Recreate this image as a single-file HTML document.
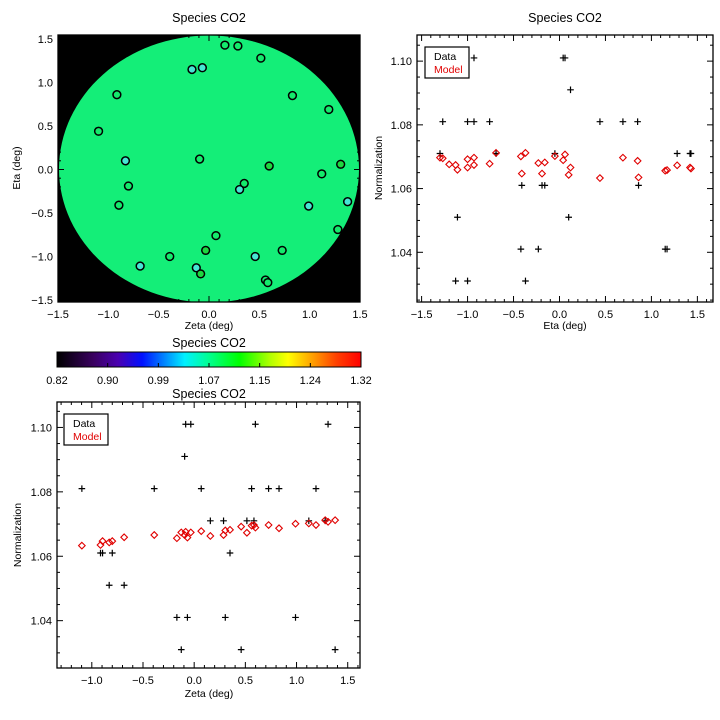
<!DOCTYPE html>
<html><head><meta charset="utf-8"><style>
html,body{margin:0;padding:0;background:#fff;}
svg{display:block;font-family:"Liberation Sans",sans-serif;}
</style></head><body>
<svg id="fig" width="720" height="720" viewBox="0 0 720 720" xmlns="http://www.w3.org/2000/svg"></svg>
<script>
// data per fiber/point
const zeta = [0.158,0.287,0.515,-0.169,-0.066,-0.915,0.829,1.19,-1.097,-0.83,-0.093,0.598,1.308,1.12,-0.80,0.35,0.304,-0.895,0.99,1.377,1.28,0.069,-0.033,0.727,-0.39,0.459,-0.684,-0.126,-0.083,0.561,0.584];
const eta = [1.43,1.42,1.28,1.15,1.17,0.86,0.85,0.69,0.44,0.10,0.12,0.04,0.06,-0.05,-0.19,-0.16,-0.23,-0.41,-0.42,-0.37,-0.69,-0.76,-0.93,-0.93,-1.00,-1.00,-1.11,-1.13,-1.20,-1.27,-1.30];
const dataVals = [1.071,1.071,1.071,1.041,1.041,1.061,1.081,1.081,1.081,1.051,1.091,1.101,1.101,1.071,1.061,1.061,1.041,1.061,1.041,1.031,1.071,1.081,1.101,1.081,1.081,1.031,1.051,1.031,1.101,1.081,1.071];
const modelVals = [1.0663,1.0666,1.0673,1.0656,1.0658,1.0635,1.0687,1.0697,1.0633,1.0643,1.0666,1.0689,1.0707,1.0702,1.0647,1.0682,1.068,1.0647,1.0701,1.0712,1.0712,1.0678,1.0674,1.0697,1.0666,1.0692,1.0659,1.0674,1.0676,1.0695,1.0697];
const mapTicks = ['-1.5','-1.0','-0.5','0.0','0.5','1.0','1.5'];
const normTicks = ['1.04','1.06','1.08','1.10'];
const cbarLabels = ['0.82','0.90','0.99','1.07','1.15','1.24','1.32'];

const NS='http://www.w3.org/2000/svg';
const svg=document.getElementById('fig');
function mk(tag,attrs,parent){const e=document.createElementNS(NS,tag);for(const k in attrs)e.setAttribute(k,attrs[k]);(parent||svg).appendChild(e);return e;}
function txt(s,x,y,attrs,parent){const t=mk('text',Object.assign({x:x,y:y,'font-size':11,fill:'#000'},attrs||{}),parent);t.textContent=s;return t;}

function makeAxes(name,b,xr,yr){
  const g=mk('g',{});
  
  
  const sx=v=>b.x0+(v-xr[0])/(xr[1]-xr[0])*(b.x1-b.x0);
  const sy=v=>b.y1-(v-yr[0])/(yr[1]-yr[0])*(b.y1-b.y0);
  return {g,sx,sy,b};
}
function drawFrame(A,xmaj,xmin,ymaj,ymin,xr,yr,xlabels,ylabels,xdec,ydec){
  const {g,sx,sy,b}=A;
  mk('rect',{x:b.x0,y:b.y0,width:b.x1-b.x0,height:b.y1-b.y0,fill:'none',stroke:'#000','stroke-width':1.3},g);
  const eps=1e-9;
  for(let v=Math.ceil((xr[0]-eps)/xmin)*xmin;v<=xr[1]+eps;v+=xmin){
    const x=sx(v);const isMaj=Math.abs(v/xmaj-Math.round(v/xmaj))<1e-6;const L=isMaj?6:3;
    mk('line',{x1:x,x2:x,y1:b.y1,y2:b.y1-L,stroke:'#000','stroke-width':1},g);
    mk('line',{x1:x,x2:x,y1:b.y0,y2:b.y0+L,stroke:'#000','stroke-width':1},g);
  }
  for(let v=Math.ceil((yr[0]-eps)/ymin)*ymin;v<=yr[1]+eps;v+=ymin){
    const y=sy(v);const isMaj=Math.abs(v/ymaj-Math.round(v/ymaj))<1e-6;const L=isMaj?6:3;
    mk('line',{x1:b.x0,x2:b.x0+L,y1:y,y2:y,stroke:'#000','stroke-width':1},g);
    mk('line',{x1:b.x1,x2:b.x1-L,y1:y,y2:y,stroke:'#000','stroke-width':1},g);
  }
  xlabels.forEach(s=>{const t=txt(s.replace('-','\u2212'),sx(parseFloat(s)),b.y1+16,{'text-anchor':'middle'},g);
    });
  ylabels.forEach(s=>{const t=txt(s.replace('-','\u2212'),b.x0-5,sy(parseFloat(s))+4,{'text-anchor':'end'},g);
    });
}
function plus(g,x,y){const p=mk('path',{d:`M${x-3.3} ${y}H${x+3.3}M${x} ${y-3.3}V${y+3.3}`,stroke:'#000','stroke-width':1.2},g);
  }
function diamond(g,x,y){const p=mk('path',{d:`M${x} ${y-3.3}L${x+3.3} ${y}L${x} ${y+3.3}L${x-3.3} ${y}Z`,fill:'none',stroke:'#e00000','stroke-width':1.1},g);
  }
function circColor(v){ if(v<1.058) return '#46e6d4'; if(v>1.095) return '#1ed640'; return '#14ea6c'; }

// ---- Map plot ----
{
  const xr=[-1.5,1.5], yr=[-1.523,1.546];
  const A=makeAxes('map-plot',{x0:58,x1:360,y0:35,y1:302},xr,yr);
  const bg=mk('rect',{x:58,y:35,width:302,height:267,fill:'#000'},A.g);
  
  const d=mk('ellipse',{cx:209,cy:169,rx:150,ry:133.5,fill:'#14ee78'},A.g);
  
  drawFrame(A,0.5,0.1,0.5,0.1,xr,yr,mapTicks,mapTicks);
  for(let i=0;i<zeta.length;i++){
    const c=mk('circle',{cx:A.sx(zeta[i]),cy:A.sy(eta[i]),r:3.9,fill:circColor(dataVals[i]),stroke:'#000','stroke-width':1.5},A.g);
    
  }
  const t=txt('Species CO2',209,22,{'text-anchor':'middle','font-size':12.5});
  
  const xl=txt('Zeta (deg)',209,329,{'text-anchor':'middle','font-size':10.5});
  
  const yl=txt('Eta (deg)',0,0,{'text-anchor':'middle','font-size':10.5,transform:'translate(20,168) rotate(-90)'});
  
}

// ---- Colorbar ----
{
  const g=mk('g',{});
  
  
  const defs=mk('defs',{},g);
  const lg=mk('linearGradient',{id:'rb',x1:0,x2:1,y1:0,y2:0},defs);
  [[0,'#000000'],[0.12,'#3a0060'],[0.2,'#4a00b0'],[0.28,'#0010ff'],[0.36,'#0090ff'],[0.42,'#00f0ff'],[0.5,'#00ff90'],[0.6,'#00ff00'],[0.7,'#b0ff00'],[0.76,'#ffff00'],[0.84,'#ffa000'],[0.92,'#ff4000'],[1,'#ff0000']]
    .forEach(s=>mk('stop',{offset:s[0],'stop-color':s[1]},lg));
  mk('rect',{x:57,y:352,width:304,height:15,fill:'url(#rb)',stroke:'#000','stroke-width':1},g);
  cbarLabels.forEach((s,i)=>{const x=57+i*304/6;
    mk('line',{x1:x,x2:x,y1:367,y2:363,stroke:'#000'},g);
    const t=txt(s,x,384,{'text-anchor':'middle'},g);
    });
  const t=txt('Species CO2',209,347,{'text-anchor':'middle','font-size':12.5},g);
  
}

function legend(g,x,y){
  const r=mk('rect',{x:x,y:y,width:44,height:31,fill:'#fff',stroke:'#000','stroke-width':1.2},g);
  
  const a=txt('Data',x+9,y+13,{'font-size':10.5},g);
  
  const b=txt('Model',x+9,y+26,{'font-size':10.5,fill:'#e00000'},g);
  
}

// ---- Eta plot ----
{
  const xr=[-1.55,1.67], yr=[1.0244,1.1082];
  const A=makeAxes('eta-plot',{x0:417,x1:713,y0:35,y1:302},xr,yr);
  drawFrame(A,0.5,0.1,0.02,0.005,xr,yr,mapTicks,normTicks);
  for(let i=0;i<eta.length;i++) plus(A.g,A.sx(eta[i]),A.sy(dataVals[i]));
  for(let i=0;i<eta.length;i++) diamond(A.g,A.sx(eta[i]),A.sy(modelVals[i]));
  legend(A.g,425,47);
  const t=txt('Species CO2',565,22,{'text-anchor':'middle','font-size':12.5});
  
  const xl=txt('Eta (deg)',565,329,{'text-anchor':'middle','font-size':10.5});
  
  const yl=txt('Normalization',0,0,{'text-anchor':'middle','font-size':10.5,transform:'translate(382,168) rotate(-90)'});
  
}

// ---- Zeta plot ----
{
  const xr=[-1.34,1.62], yr=[1.0253,1.1079];
  const A=makeAxes('zeta-plot',{x0:57,x1:360,y0:402,y1:668},xr,yr);
  drawFrame(A,0.5,0.1,0.02,0.005,xr,yr,['-1.0','-0.5','0.0','0.5','1.0','1.5'],normTicks);
  for(let i=0;i<zeta.length;i++) plus(A.g,A.sx(zeta[i]),A.sy(dataVals[i]));
  for(let i=0;i<zeta.length;i++) diamond(A.g,A.sx(zeta[i]),A.sy(modelVals[i]));
  legend(A.g,64,414);
  const t=txt('Species CO2',209,398,{'text-anchor':'middle','font-size':12.5});
  
  const xl=txt('Zeta (deg)',209,697,{'text-anchor':'middle','font-size':10.5});
  
  const yl=txt('Normalization',0,0,{'text-anchor':'middle','font-size':10.5,transform:'translate(21,535) rotate(-90)'});
  
}
</script>
</body></html>
